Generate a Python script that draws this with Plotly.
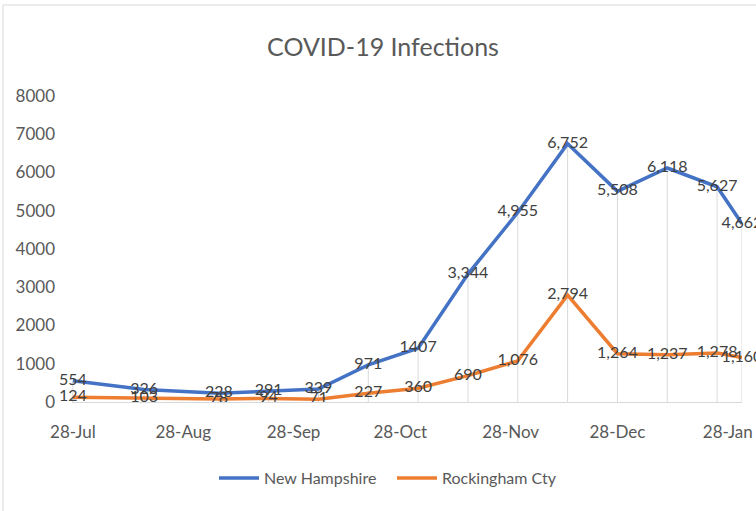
import plotly.graph_objects as go

dates = ["2020-07-28", "2020-08-17", "2020-09-07", "2020-09-21", "2020-10-05",
         "2020-10-19", "2020-11-02", "2020-11-16", "2020-11-30", "2020-12-14",
         "2020-12-28", "2021-01-11", "2021-01-25", "2021-02-01"]
nh = [554, 326, 228, 291, 339, 971, 1407, 3344, 4955, 6752, 5508, 6118, 5627, 4662]
rock = [124, 103, 78, 94, 71, 227, 360, 690, 1076, 2794, 1264, 1237, 1278, 1160]
nh_labels = ["554", "326", "228", "291", "339", "971", "1407", "3,344", "4,955",
             "6,752", "5,508", "6,118", "5,627", "4,662"]
rock_labels = [f"{v:,}" for v in rock]
tick_dates = ["2020-07-28", "2020-08-28", "2020-09-28", "2020-10-28",
              "2020-11-28", "2020-12-28", "2021-01-28"]
y_ticks = [0, 1000, 2000, 3000, 4000, 5000, 6000, 7000, 8000]

FONT = "Lato"
GRAY = "#595959"
LBL = "#404040"

fig = go.Figure()

# drop lines
dx, dy = [], []
for d, a, b in zip(dates, nh, rock):
    dx += [d, d, None]
    dy += [0, max(a, b), None]
fig.add_trace(go.Scatter(x=dx, y=dy, mode="lines", line=dict(color="#D9D9D9", width=1),
                         hoverinfo="skip", showlegend=False))

fig.add_trace(go.Scatter(x=dates, y=nh, mode="lines+text", name="New Hampshire",
                         line=dict(color="#4472C4", width=3.5),
                         text=nh_labels, textposition="middle center",
                         textfont=dict(family=FONT, size=16, color=LBL), cliponaxis=False))
fig.add_trace(go.Scatter(x=dates, y=rock, mode="lines+text", name="Rockingham Cty",
                         line=dict(color="#ED7D31", width=3.5),
                         text=rock_labels, textposition="middle center",
                         textfont=dict(family=FONT, size=16, color=LBL), cliponaxis=False))

fig.update_layout(
    width=756, height=511,
    margin=dict(l=72, r=14, t=96, b=109, autoexpand=False),
    paper_bgcolor="white", plot_bgcolor="white",
    title=dict(text="COVID-19 Infections", x=383/756, xanchor="center",
               y=1 - 47/511, yanchor="middle",
               font=dict(family=FONT, size=25, color=GRAY)),
    xaxis=dict(type="date", range=["2020-07-27 18:00", "2021-02-01"],
               tickvals=tick_dates, tickformat="%d-%b", automargin=False,
               showgrid=False, zeroline=False, showline=True, linecolor="#D9D9D9",
               linewidth=1, ticks="", ticklabelstandoff=15,
               tickfont=dict(family=FONT, size=17, color=GRAY)),
    yaxis=dict(range=[0, 8000], tickvals=y_ticks, showgrid=False, zeroline=False,
               showline=False, ticks="", ticklabelstandoff=16, automargin=False,
               tickfont=dict(family=FONT, size=17, color=GRAY)),
    legend=dict(orientation="h", xref="container", x=392 / 756, xanchor="center",
                y=(402 - 478) / 306, yanchor="middle", itemwidth=40,
                entrywidth=123,
                font=dict(family=FONT, size=16, color=GRAY)),
    showlegend=True,
    shapes=[dict(type="rect", xref="paper", yref="paper",
                 x0=(3 - 72) / 670, x1=1.3, y0=-2, y1=(402 - 5) / 306,
                 line=dict(color="#D9D9D9", width=1), fillcolor="rgba(0,0,0,0)",
                 layer="below")],
)

fig.write_html("out.html", config={"displayModeBar": False},
               post_script="document.body.style.margin='0px';")
